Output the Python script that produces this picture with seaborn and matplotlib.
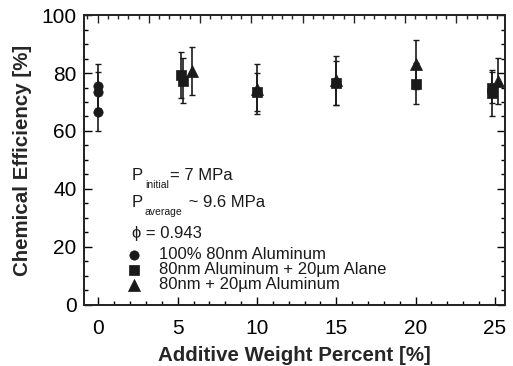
import numpy as np
import pandas as pd
import matplotlib
matplotlib.use("Agg")
import matplotlib.pyplot as plt
import seaborn as sns
from matplotlib.ticker import MultipleLocator

sns.set_theme(style="ticks")
plt.rcParams['font.family'] = ['Liberation Sans', 'DejaVu Sans']

# ---- data ----
series_names = ["100% 80nm Aluminum",
                "80nm Aluminum + 20\u00b5m Alane",
                "80nm + 20\u00b5m Aluminum"]

circle_x = [0.0, 0.0, 0.0]
circle_y = [75.5, 73.5, 66.5]
circle_err = [7.5, 7.0, 6.5]

square_x = [5.2, 5.35, 10.0, 15.0, 20.0, 24.85, 24.85]
square_y = [79.3, 77.3, 73.5, 76.5, 76.3, 75.0, 73.2]
square_err = [8.0, 7.8, 6.5, 7.5, 7.0, 5.5, 8.0]

tri_x = [5.9, 10.0, 15.0, 20.0, 25.2]
tri_y = [80.7, 74.5, 77.5, 83.0, 77.3]
tri_err = [8.3, 8.5, 8.5, 8.5, 8.0]

df = pd.DataFrame({
    "x": circle_x + square_x + tri_x,
    "y": circle_y + square_y + tri_y,
    "err": circle_err + square_err + tri_err,
    "series": [series_names[0]] * len(circle_x)
              + [series_names[1]] * len(square_x)
              + [series_names[2]] * len(tri_x),
})

color = "#1a1a1a"
markers = {series_names[0]: "o", series_names[1]: "s", series_names[2]: "^"}
sizes = {series_names[0]: 45, series_names[1]: 60, series_names[2]: 75}

fig = plt.figure(figsize=(5.13, 3.66), dpi=100)
ax = fig.add_axes([0.163, 0.1667, 0.821, 0.7923])

for name in series_names:
    sub = df[df.series == name]
    ax.errorbar(sub.x, sub.y, yerr=sub.err, fmt="none", ecolor=color,
                elinewidth=1.2, capsize=2.5, capthick=1.0, zorder=2)

for name in series_names:
    sub = df[df.series == name]
    sns.scatterplot(data=sub, x="x", y="y", marker=markers[name],
                    s=sizes[name], color=color, edgecolor=color,
                    linewidth=0.5, ax=ax, zorder=3, label=name)

ax.set_xlim(-0.93, 25.63)
ax.set_ylim(0, 100)
ax.xaxis.set_major_locator(MultipleLocator(5))
ax.xaxis.set_minor_locator(MultipleLocator(1))
ax.yaxis.set_major_locator(MultipleLocator(20))
ax.yaxis.set_minor_locator(MultipleLocator(5))
ax.tick_params(which="both", direction="in", right=True, colors="black",
               labelsize=15, width=1.0)
ax.tick_params(which="major", length=6)
ax.tick_params(which="minor", length=3)
ax.tick_params(axis="y", pad=5)
ax.tick_params(axis="x", pad=10)
for sp in ax.spines.values():
    sp.set_linewidth(1.2)
    sp.set_color("black")

ax.set_xlabel("Additive Weight Percent [%]", fontsize=14.8, fontweight="bold",
              labelpad=5.5)
ax.set_ylabel("Chemical Efficiency [%]", fontsize=14.8, fontweight="bold",
              labelpad=7)

# top axis ticks (independent scale as in the reference)
axt = ax.twiny()
axt.set_xlim(-0.272, 7.947)
axt.xaxis.set_major_locator(MultipleLocator(1))
axt.xaxis.set_minor_locator(MultipleLocator(0.2))
axt.tick_params(which="both", direction="in", labeltop=False, top=True)
axt.tick_params(which="major", length=6, width=1.0)
axt.tick_params(which="minor", length=3, width=1.0)

# annotations with small subscripts
def p_line(y, sub, rest):
    t = ax.text(2.1, y, "P", fontsize=12, color=color)
    s = ax.annotate(sub, xy=(1, 0), xycoords=t, xytext=(1.5, -3.5),
                    textcoords="offset points", fontsize=7.5, color=color,
                    va="baseline", ha="left")
    ax.annotate(rest, xy=(1, 0), xycoords=(s, t), xytext=(1, 0),
                textcoords="offset points", fontsize=12, color=color,
                va="bottom", ha="left")

p_line(43.0, "initial", "= 7 MPa")
p_line(33.8, "average", " ~ 9.6 MPa")
ax.text(2.1, 23.2, "\u03d5 = 0.943", fontsize=12, color=color)

leg = ax.legend(loc="lower left", bbox_to_anchor=(0.097, 0.045),
                frameon=False, fontsize=12, handletextpad=0.85,
                labelspacing=0.0, borderpad=0, handlelength=1.2,
                borderaxespad=0)
for t in leg.get_texts():
    t.set_color(color)

fig.savefig("out.png", dpi=100)
